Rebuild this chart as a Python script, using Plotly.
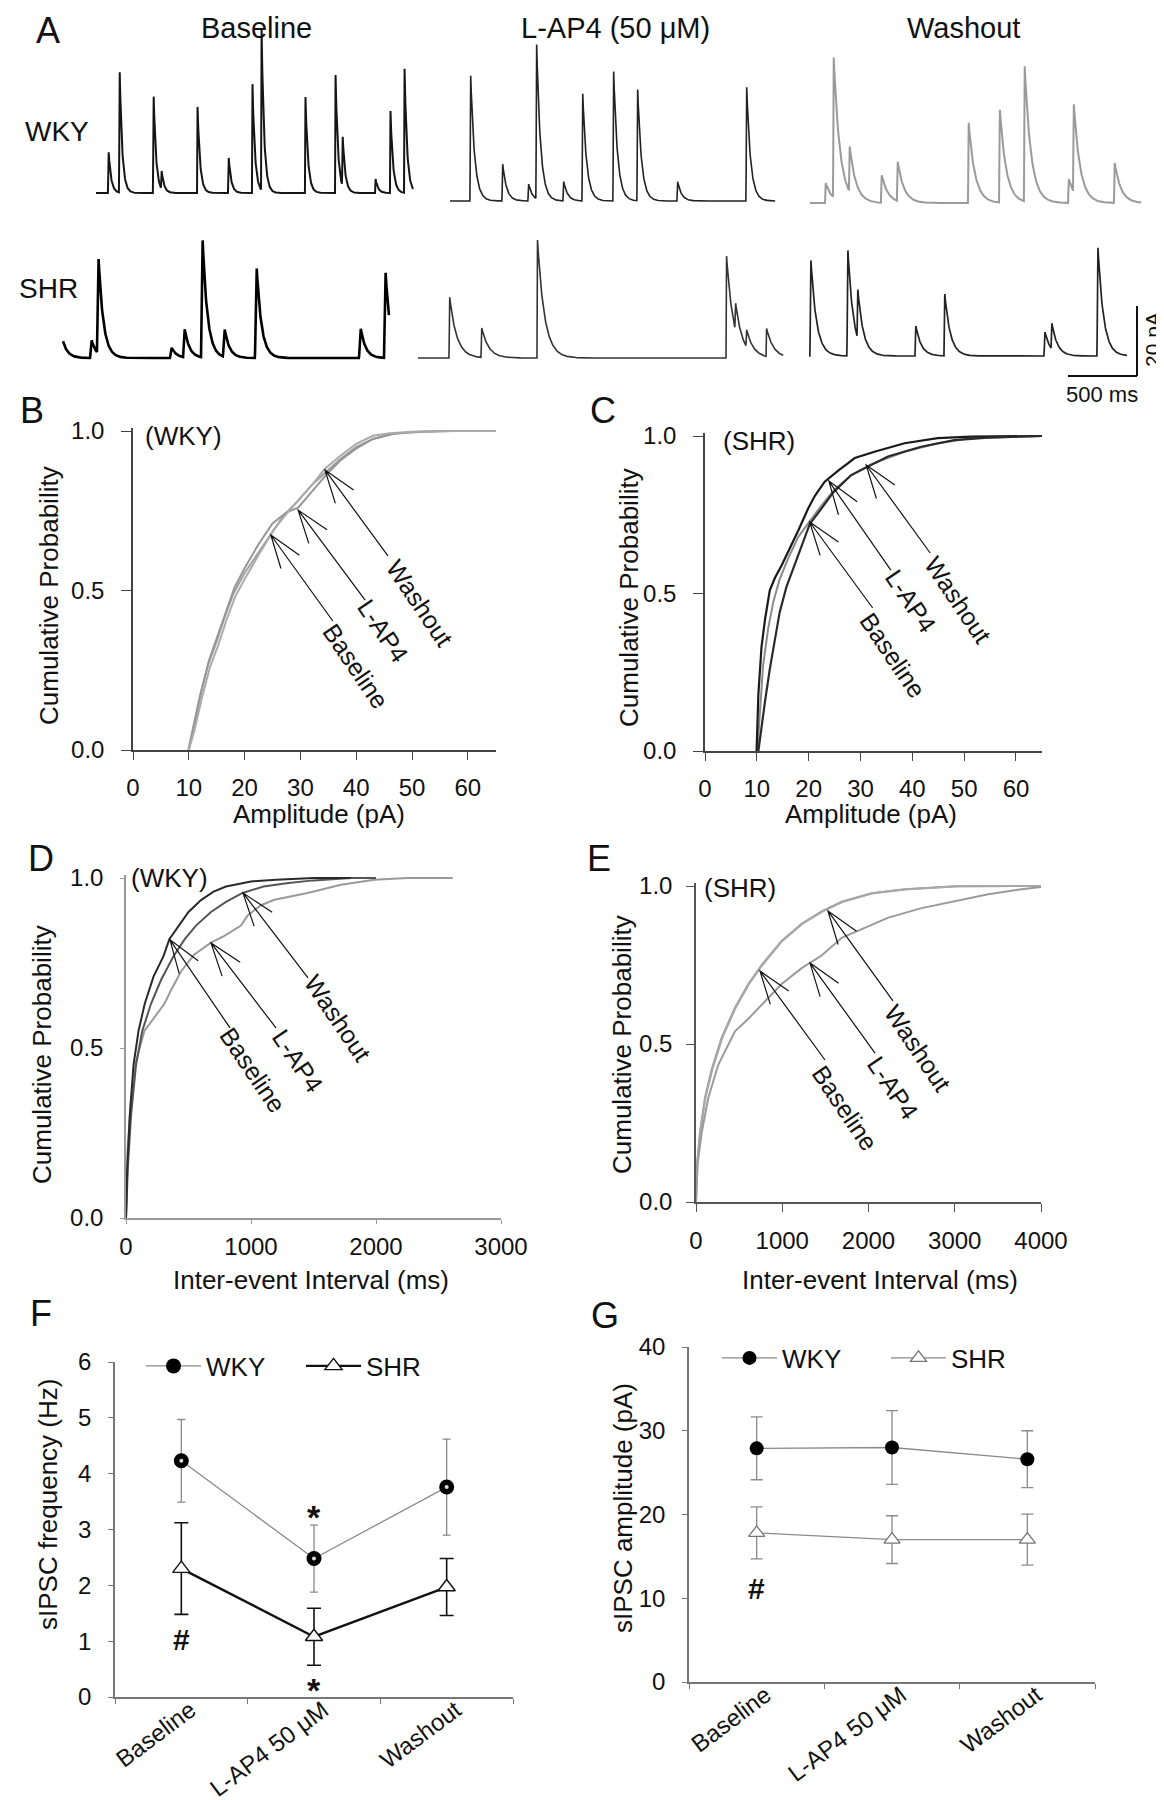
import math
import numpy as np
import plotly.graph_objects as go

W, H = 1164, 1800
FONT = "Liberation Sans, Arial, sans-serif"
TXT = "#111111"

# ---------------- Panel A : sIPSC events ----------------
# event times (ms from trace start) and amplitudes (pA)
wky_base_t = [87, 167, 413, 471, 732, 957, 1130, 1196, 1514, 1732, 1783, 2022, 2130, 2232]
wky_base_a = [12.3, 36.3, 29.1, 5.5, 24.6, 10.6, 31.1, 46.0, 27.4, 33.7, 15.0, 4.0, 23.4, 35.4]
wky_base_dur = 2297

wky_lap4_t = [145, 377, 565, 623, 819, 957, 1181, 1355, 1645, 2145]
wky_lap4_a = [37.1, 10.9, 5.0, 45.7, 5.7, 31.7, 38.3, 32.9, 5.7, 33.7]
wky_lap4_dur = 2355

wky_wash_t = [109, 167, 283, 514, 630, 1145, 1370, 1551, 1870, 1906, 2203]
wky_wash_a = [5.7, 40.0, 13.0, 8.0, 11.4, 22.9, 27.1, 38.6, 7.0, 25.7, 11.4]
wky_wash_dur = 2399

shr_base_t = [-20, 196, 246, 775, 870, 1000, 1159, 1391, 2145, 2326]
shr_base_a = [6.0, 5.0, 27.1, 3.0, 8.0, 33.4, 8.0, 26.3, 8.6, 24.3]
shr_base_dur = 2362

shr_lap4_t = [225, 457, 862, 2232, 2297, 2377, 2522]
shr_lap4_a = [17.7, 8.6, 33.7, 29.1, 8.0, 5.0, 8.0]
shr_lap4_dur = 2645

shr_wash_t = [7, 275, 348, 768, 978, 1703, 1754, 2087]
shr_wash_a = [28.0, 30.9, 14.0, 8.6, 17.7, 7.0, 7.4, 31.7]
shr_wash_dur = 2304

# ---------------- Panels B-E : cumulative distributions ----------------
# B: WKY amplitude (pA)
b_base_x = [9.9, 10.8, 12.0, 13.5, 15.0, 16.5, 18.0, 20.0, 22.5, 24.8, 27.0, 29.5, 32.0, 34.5, 37.0, 40.0, 43.0, 46.0, 50.0, 55.0, 65.0]
b_base_y = [0.0, 0.07, 0.17, 0.27, 0.34, 0.42, 0.49, 0.555, 0.62, 0.68, 0.735, 0.78, 0.83, 0.87, 0.91, 0.95, 0.975, 0.99, 0.997, 1.0, 1.0]
b_lap4_x = [10.0, 11.0, 12.2, 13.6, 15.2, 16.7, 18.2, 20.0, 22.5, 25.0, 27.5, 29.6, 32.0, 34.5, 37.0, 40.0, 43.0, 47.0, 52.0, 57.0, 65.0]
b_lap4_y = [0.0, 0.08, 0.18, 0.28, 0.36, 0.44, 0.51, 0.57, 0.645, 0.71, 0.745, 0.76, 0.81, 0.86, 0.905, 0.945, 0.975, 0.992, 0.998, 1.0, 1.0]
b_wash_x = [10.0, 11.0, 12.3, 13.8, 15.3, 16.8, 18.3, 20.3, 22.8, 25.2, 27.5, 30.0, 32.5, 34.3, 37.0, 40.0, 43.0, 46.0, 50.0, 58.0, 65.0]
b_wash_y = [0.0, 0.06, 0.16, 0.26, 0.33, 0.41, 0.48, 0.545, 0.62, 0.69, 0.74, 0.79, 0.84, 0.88, 0.92, 0.96, 0.985, 0.993, 0.998, 1.0, 1.0]

# C: SHR amplitude (pA)
c_base_x = [10.1, 10.6, 11.2, 12.2, 13.2, 14.4, 16.0, 18.0, 20.2, 22.5, 25.0, 28.2, 32.0, 38.5, 44.9, 51.3, 65.0]
c_base_y = [0.0, 0.14, 0.27, 0.39, 0.475, 0.545, 0.61, 0.68, 0.73, 0.78, 0.83, 0.875, 0.91, 0.95, 0.977, 0.993, 1.0]
c_lap4_x = [9.95, 10.3, 10.9, 11.6, 12.5, 13.5, 14.8, 16.0, 18.0, 19.9, 21.2, 23.1, 25.7, 28.9, 32.7, 38.5, 44.9, 51.3, 65.0]
c_lap4_y = [0.0, 0.18, 0.33, 0.42, 0.51, 0.55, 0.59, 0.63, 0.70, 0.77, 0.81, 0.855, 0.89, 0.93, 0.95, 0.977, 0.993, 0.998, 1.0]
c_wash_x = [10.3, 10.9, 11.6, 12.5, 13.5, 14.4, 15.7, 17.3, 19.3, 20.2, 22.5, 24.7, 28.2, 31.1, 35.3, 41.7, 48.1, 54.6, 65.0]
c_wash_y = [0.0, 0.08, 0.16, 0.26, 0.36, 0.44, 0.52, 0.59, 0.68, 0.72, 0.77, 0.82, 0.876, 0.90, 0.935, 0.966, 0.987, 0.995, 1.0]

# D: WKY inter-event interval (ms)
d_base_x = [0, 10, 30, 60, 100, 150, 220, 300, 347, 420, 500, 600, 700, 800, 1000, 1200, 1500, 1800]
d_base_y = [0.0, 0.15, 0.30, 0.45, 0.55, 0.63, 0.71, 0.77, 0.82, 0.86, 0.90, 0.935, 0.96, 0.975, 0.99, 0.995, 1.0, 1.0]
d_lap4_x = [0, 13, 40, 80, 147, 227, 307, 360, 440, 547, 600, 680, 787, 920, 973, 1080, 1187, 1453, 1720, 1987, 2253, 2613]
d_lap4_y = [0.0, 0.20, 0.35, 0.46, 0.55, 0.59, 0.63, 0.67, 0.725, 0.775, 0.79, 0.81, 0.83, 0.86, 0.89, 0.92, 0.936, 0.956, 0.98, 0.995, 1.0, 1.0]
d_wash_x = [0, 15, 40, 80, 130, 200, 280, 380, 470, 560, 680, 800, 933, 1100, 1300, 1500, 1800, 2000]
d_wash_y = [0.0, 0.15, 0.30, 0.45, 0.55, 0.63, 0.70, 0.77, 0.82, 0.86, 0.90, 0.93, 0.956, 0.975, 0.985, 0.993, 1.0, 1.0]

# E: SHR inter-event interval (ms)
e_base_x = [0, 12, 46, 104, 182, 298, 452, 607, 761, 993, 1225, 1457, 1689, 2037, 2423, 3003, 4000]
e_base_y = [0.0, 0.12, 0.22, 0.33, 0.42, 0.52, 0.615, 0.69, 0.75, 0.826, 0.88, 0.92, 0.95, 0.977, 0.99, 0.999, 1.0]
e_lap4_x = [0, 19, 66, 143, 259, 452, 607, 761, 993, 1225, 1457, 1689, 1921, 2230, 2616, 3003, 3389, 3775, 4000]
e_lap4_y = [0.0, 0.12, 0.22, 0.33, 0.435, 0.54, 0.58, 0.625, 0.69, 0.74, 0.78, 0.836, 0.863, 0.90, 0.93, 0.952, 0.974, 0.99, 0.997]
e_wash_x = [0, 14, 50, 110, 190, 305, 460, 615, 770, 1000, 1230, 1470, 1700, 2050, 2450, 3050, 4000]
e_wash_y = [0.0, 0.12, 0.22, 0.33, 0.42, 0.52, 0.615, 0.69, 0.75, 0.826, 0.88, 0.92, 0.95, 0.977, 0.99, 0.999, 1.0]

# ---------------- Panels F, G : summary means +/- SEM ----------------
conditions = ["Baseline", "L-AP4 50 \u03bcM", "Washout"]
cond_pos = [0.5, 1.5, 2.5]
f_wky_mean = [4.23, 2.48, 3.76]
f_wky_err = [0.74, 0.60, 0.86]
f_shr_mean = [2.30, 1.08, 1.97]
f_shr_err = [0.82, 0.51, 0.51]
g_wky_mean = [27.9, 28.0, 26.6]
g_wky_err = [3.75, 4.4, 3.4]
g_shr_mean = [17.8, 17.0, 17.0]
g_shr_err = [3.1, 2.85, 3.05]

# ============================ layout helpers ============================
def px(x):
    return x / W


def py(y):
    return 1 - y / H


def ydom(top, bottom):
    return [py(bottom), py(top)]


def xdom(left, right):
    return [px(left), px(right)]


fig = go.Figure()
annotations = []
shapes = []


def text(x, y, s, size=24, angle=0, xanchor="center", yanchor="middle", bold=False):
    if bold:
        s = "<b>" + s + "</b>"
    annotations.append(dict(x=px(x), y=py(y), xref="paper", yref="paper", text=s, showarrow=False,
                            textangle=angle, xanchor=xanchor, yanchor=yanchor,
                            font=dict(size=size, color=TXT, family=FONT)))


# ============================ Panel A ============================
PX_PER_MS = 69 / 500.0
PX_PER_PA = 70 / 20.0
A_BOTTOM = 390


def render(t_ev, a_ev, dur, rise, tau, dt=2.0):
    t = np.arange(0, dur + dt, dt)
    y = np.zeros_like(t)
    for t0, a in zip(t_ev, a_ev):
        s = t - t0
        up = (s >= 0) & (s < rise)
        y[up] += a * s[up] / rise
        dn = s >= rise
        y[dn] += a * np.exp(-(s[dn] - rise) / tau)
    return t, y


trace_specs = [
    # events, dur, start_px, baseline_px, rise, tau, color, width
    (wky_base_t, wky_base_a, wky_base_dur, 88, 185, 4, 18, "#151515", 2.0),
    (wky_lap4_t, wky_lap4_a, wky_lap4_dur, 442, 193, 4, 28, "#222222", 1.6),
    (wky_wash_t, wky_wash_a, wky_wash_dur, 802, 195, 5, 45, "#9a9a9a", 2.0),
    (shr_base_t, shr_base_a, shr_base_dur, 55, 350, 12, 35, "#000000", 2.6),
    (shr_lap4_t, shr_lap4_a, shr_lap4_dur, 410, 350, 4, 50, "#333333", 1.6),
    (shr_wash_t, shr_wash_a, shr_wash_dur, 801, 348, 6, 40, "#222222", 1.7),
]
for t_ev, a_ev, dur, sx, by, rise, tau, col, lw in trace_specs:
    t, y = render(t_ev, a_ev, dur, rise, tau)
    fig.add_trace(go.Scatter(x=t + sx / PX_PER_MS, y=y + (A_BOTTOM - by) / PX_PER_PA, mode="lines",
                             line=dict(color=col, width=lw), xaxis="x", yaxis="y",
                             showlegend=False, hoverinfo="skip"))

# scale bar 20 pA / 500 ms (in data units)
sb_x1 = 1129 / PX_PER_MS
sb_y0 = (A_BOTTOM - 368) / PX_PER_PA
shapes.append(dict(type="line", xref="x", yref="y", x0=sb_x1 - 500, x1=sb_x1, y0=sb_y0, y1=sb_y0,
                   line=dict(color="#111", width=2)))
shapes.append(dict(type="line", xref="x", yref="y", x0=sb_x1, x1=sb_x1, y0=sb_y0, y1=sb_y0 + 20,
                   line=dict(color="#111", width=2)))
text(1145, 332, "20 pA", size=21, angle=-90)
text(1094, 387, "500 ms", size=22)

text(40, 22, "A", size=36)
text(248, 20, "Baseline", size=29)
text(607, 20, "L-AP4 (50 \u03bcM)", size=29)
text(955, 20, "Washout", size=29)
text(83, 123, "WKY", size=28, xanchor="right")
text(72, 281, "SHR", size=28, xanchor="right")

# ============================ cumulative panels ============================
def arrow(xref, yref, tx, ty, dx, dy, label, lx, ly):
    L = math.hypot(dx, dy)
    ux, uy = dx / L, dy / L
    wing, spr = 35, math.radians(19)
    w = []
    for sgn in (1, -1):
        c, s = math.cos(sgn * spr), math.sin(sgn * spr)
        w.append((wing * (ux * c - uy * s), wing * (ux * s + uy * c)))
    path = (f"M {dx:.1f},{dy:.1f} L 0,0 M {w[0][0]:.1f},{w[0][1]:.1f} L 0,0 L {w[1][0]:.1f},{w[1][1]:.1f}")
    shapes.append(dict(type="path", xref=xref, yref=yref, xsizemode="pixel", ysizemode="pixel",
                       xanchor=tx, yanchor=ty, path=path, line=dict(color="#111", width=1.2)))
    annotations.append(dict(x=tx, y=ty, xref=xref, yref=yref, xshift=lx, yshift=ly, text=label,
                            showarrow=False, textangle=56,
                            font=dict(size=25, color=TXT, family=FONT)))


def cum_panel(n, left, right, p0, p1, xrange, xticks, axcol, xlen, ylen, xstand, ystand):
    # p0: pixel of y=0, p1: pixel of y=1 ; y range extended to 1.01
    ppu = p0 - p1
    top = p0 - 1.01 * ppu
    xa = dict(domain=xdom(left, right), range=xrange, tickvals=xticks, ticks="outside", ticklen=xlen,
              tickcolor=axcol, showline=True, linecolor=axcol, linewidth=1.5, showgrid=False,
              zeroline=False, anchor=f"y{n}", tickfont=dict(size=24, color=TXT, family=FONT),
              ticklabelstandoff=xstand, automargin=False)
    ya = dict(domain=ydom(top, p0), range=[0, 1.01], tickvals=[0, 0.5, 1.0],
              ticktext=["0.0", "0.5", "1.0"], ticks="outside", ticklen=ylen, tickcolor=axcol,
              showline=True, linecolor=axcol, linewidth=1.5, showgrid=False, zeroline=False,
              anchor=f"x{n}", tickfont=dict(size=24, color=TXT, family=FONT), ticklabelstandoff=ystand,
              automargin=False)
    return xa, ya


layout_axes = {}
layout_axes["xaxis"] = dict(domain=[0, 1], range=[0, W / PX_PER_MS], visible=False, anchor="y", automargin=False)
layout_axes["yaxis"] = dict(domain=ydom(0, A_BOTTOM), range=[0, A_BOTTOM / PX_PER_PA], visible=False,
                            anchor="x", automargin=False)

xa, ya = cum_panel(2, 125, 125 + 65 * 5.58, 742, 423, [0, 65], [0, 10, 20, 30, 40, 50, 60], "#444", 8, 10, 7, 12)
layout_axes["xaxis2"], layout_axes["yaxis2"] = xa, ya
xa, ya = cum_panel(3, 697, 697 + 65 * 5.183, 743, 428, [0, 65], [0, 10, 20, 30, 40, 50, 60], "#444", 8, 10, 7, 12)
layout_axes["xaxis3"], layout_axes["yaxis3"] = xa, ya
xa, ya = cum_panel(4, 118, 493, 1210, 870, [0, 3000], [0, 1000, 2000, 3000], "#999", 4, 4, 2, 12)
layout_axes["xaxis4"], layout_axes["yaxis4"] = xa, ya
xa, ya = cum_panel(5, 688, 1033, 1194, 878, [0, 4000], [0, 1000, 2000, 3000, 4000], "#555", 8, 8, 8, 9)
layout_axes["xaxis5"], layout_axes["yaxis5"] = xa, ya


def cum_line(n, x, y, col, w=2.0, shape="linear"):
    fig.add_trace(go.Scatter(x=x, y=y, mode="lines", line=dict(color=col, width=w, shape=shape),
                             xaxis=f"x{n}", yaxis=f"y{n}", showlegend=False, hoverinfo="skip"))


cum_line(2, b_base_x, b_base_y, "#a0a0a0")
cum_line(2, b_lap4_x, b_lap4_y, "#969696")
cum_line(2, b_wash_x, b_wash_y, "#aaaaaa")
cum_line(3, c_base_x, c_base_y, "#8a8a8a", 2.0)
cum_line(3, c_lap4_x, c_lap4_y, "#1a1a1a", 2.2)
cum_line(3, c_wash_x, c_wash_y, "#2a2a2a", 2.2)
cum_line(4, d_lap4_x, d_lap4_y, "#9a9a9a", 2.0)
cum_line(4, d_wash_x, d_wash_y, "#555555", 2.0)
cum_line(4, d_base_x, d_base_y, "#2a2a2a", 2.0)
cum_line(5, e_base_x, e_base_y, "#9a9a9a", 2.0)
cum_line(5, e_wash_x, e_wash_y, "#a8a8a8", 2.0)
cum_line(5, e_lap4_x, e_lap4_y, "#9a9a9a", 2.0)

arrow("x2", "y2", 24.7, 0.674, 62, -86, "Baseline", 85, -131)
arrow("x2", "y2", 29.6, 0.752, 67, -90, "L-AP4", 85, -121)
arrow("x2", "y2", 34.4, 0.878, 63, -86, "Washout", 95, -133)
arrow("x3", "y3", 20.2, 0.727, 63, -86, "Baseline", 83, -133)
arrow("x3", "y3", 23.9, 0.857, 62, -89, "L-AP4", 82, -120)
arrow("x3", "y3", 31.1, 0.908, 64, -88, "Washout", 92, -135)
arrow("x4", "y4", 352, 0.818, 60, -88, "Baseline", 83, -130)
arrow("x4", "y4", 680, 0.809, 65, -85, "L-AP4", 87, -118)
arrow("x4", "y4", 936, 0.956, 65, -85, "Washout", 95, -125)
arrow("x5", "y5", 742, 0.731, 65, -89, "Baseline", 85, -137)
arrow("x5", "y5", 1322, 0.756, 65, -90, "L-AP4", 83, -125)
arrow("x5", "y5", 1530, 0.921, 65, -90, "Washout", 90, -137)

text(24, 402, "B", size=36)
text(595, 402, "C", size=36)
text(33, 851, "D", size=36)
text(591, 851, "E", size=36)
text(175, 428, "(WKY)", size=26)
text(751, 433, "(SHR)", size=26)
text(161, 870, "(WKY)", size=26)
text(732, 880, "(SHR)", size=26)
for xx, yy in [(41, 588), (621, 590)]:
    text(xx, yy, "Cumulative Probability", size=26, angle=-90)
for xx, yy in [(34, 1047), (614, 1037)]:
    text(xx, yy, "Cumulative Probability", size=26, angle=-90)
text(311, 806, "Amplitude (pA)", size=26)
text(863, 806, "Amplitude (pA)", size=26)
text(303, 1272, "Inter-event Interval (ms)", size=26)
text(872, 1272, "Inter-event Interval (ms)", size=26)

# ============================ Panels F & G ============================
def summary_axes(n, left, right, p0, ptop, ymax, dtick):
    xa = dict(domain=xdom(left, right), range=[0, 3], tickmode="array", tickvals=cond_pos,
              ticktext=conditions, ticks="outside", ticklen=0, tickangle=-37,
              minor=dict(tickmode="array", tickvals=[0, 1, 2, 3], ticks="outside", ticklen=5, tickcolor="#777"),
              showline=True, linecolor="#777", linewidth=1.5, showgrid=False, zeroline=False,
              anchor=f"y{n}", tickfont=dict(size=24, color=TXT, family=FONT),
              ticklabelstandoff=-12, ticklabelshift=9, automargin=False)
    ya = dict(domain=ydom(ptop, p0), range=[0, ymax], dtick=dtick, ticks="outside", ticklen=5,
              tickcolor="#777", showline=True, linecolor="#777", linewidth=1.5, showgrid=False,
              zeroline=False, anchor=f"x{n}", tickfont=dict(size=24, color=TXT, family=FONT),
              ticklabelstandoff=12, automargin=False)
    return xa, ya


layout_axes["xaxis6"], layout_axes["yaxis6"] = summary_axes(6, 107, 505, 1689, 1354, 6, 1)
layout_axes["xaxis7"], layout_axes["yaxis7"] = summary_axes(7, 681, 1087, 1674, 1339, 40, 10)

# F
fig.add_trace(go.Scatter(x=cond_pos, y=f_wky_mean, mode="lines+markers", name="WKY",
                         line=dict(color="#8a8a8a", width=1.3),
                         marker=dict(symbol="circle", size=15, color="#000"),
                         error_y=dict(type="data", array=f_wky_err, color="#8a8a8a", thickness=1.3, width=4),
                         xaxis="x6", yaxis="y6", legend="legend", cliponaxis=False))
fig.add_trace(go.Scatter(x=cond_pos, y=f_wky_mean, mode="markers", marker=dict(size=4, color="#dddddd"),
                         xaxis="x6", yaxis="y6", showlegend=False, hoverinfo="skip", cliponaxis=False))
fig.add_trace(go.Scatter(x=cond_pos, y=f_shr_mean, mode="lines+markers", name="SHR",
                         line=dict(color="#111", width=2.4),
                         marker=dict(symbol="triangle-up", size=15, color="#fff", line=dict(color="#111", width=1.4)),
                         error_y=dict(type="data", array=f_shr_err, color="#111", thickness=1.6, width=7),
                         xaxis="x6", yaxis="y6", legend="legend", cliponaxis=False))
# G
fig.add_trace(go.Scatter(x=cond_pos, y=g_wky_mean, mode="lines+markers", name="WKY",
                         line=dict(color="#8a8a8a", width=1.3),
                         marker=dict(symbol="circle", size=14, color="#000"),
                         error_y=dict(type="data", array=g_wky_err, color="#8a8a8a", thickness=1.3, width=6),
                         xaxis="x7", yaxis="y7", legend="legend2", cliponaxis=False))
fig.add_trace(go.Scatter(x=cond_pos, y=g_shr_mean, mode="lines+markers", name="SHR",
                         line=dict(color="#8a8a8a", width=1.3),
                         marker=dict(symbol="triangle-up", size=14, color="#fff", line=dict(color="#777", width=1.3)),
                         error_y=dict(type="data", array=g_shr_err, color="#8a8a8a", thickness=1.3, width=6),
                         xaxis="x7", yaxis="y7", legend="legend2", cliponaxis=False))

annotations.append(dict(x=1.5, y=3.36, xref="x6", yref="y6", text="<b>*</b>", showarrow=False, yshift=-8,
                        font=dict(size=34, color=TXT, family=FONT)))
annotations.append(dict(x=1.5, y=0.26, xref="x6", yref="y6", text="<b>*</b>", showarrow=False, yshift=-8,
                        font=dict(size=34, color=TXT, family=FONT)))
annotations.append(dict(x=0.5, y=1.03, xref="x6", yref="y6", text="<b>#</b>", showarrow=False,
                        font=dict(size=30, color=TXT, family=FONT)))
annotations.append(dict(x=0.5, y=11.2, xref="x7", yref="y7", text="<b>#</b>", showarrow=False,
                        font=dict(size=30, color=TXT, family=FONT)))

text(33, 1305, "F", size=36)
text(597, 1307, "G", size=36)
text(40, 1497, "sIPSC frequency (Hz)", size=26, angle=-90)
text(615, 1500, "sIPSC amplitude (pA)", size=26, angle=-90)

leg_common = dict(orientation="h", xanchor="left", yanchor="middle", bgcolor="rgba(0,0,0,0)",
                  borderwidth=0, font=dict(size=26, color=TXT, family=FONT),
                  entrywidthmode="pixels", itemwidth=55)
fig.update_layout(
    template="none",
    width=W, height=H, margin=dict(l=0, r=0, t=0, b=0, pad=0, autoexpand=False),
    paper_bgcolor="white", plot_bgcolor="white",
    font=dict(family=FONT, color=TXT),
    legend=dict(x=px(133), y=py(1358), entrywidth=90, **leg_common),
    legend2=dict(x=px(709), y=py(1350), entrywidth=99, **leg_common),
    annotations=annotations, shapes=shapes,
    **layout_axes,
)

fig.write_html("out.html")
